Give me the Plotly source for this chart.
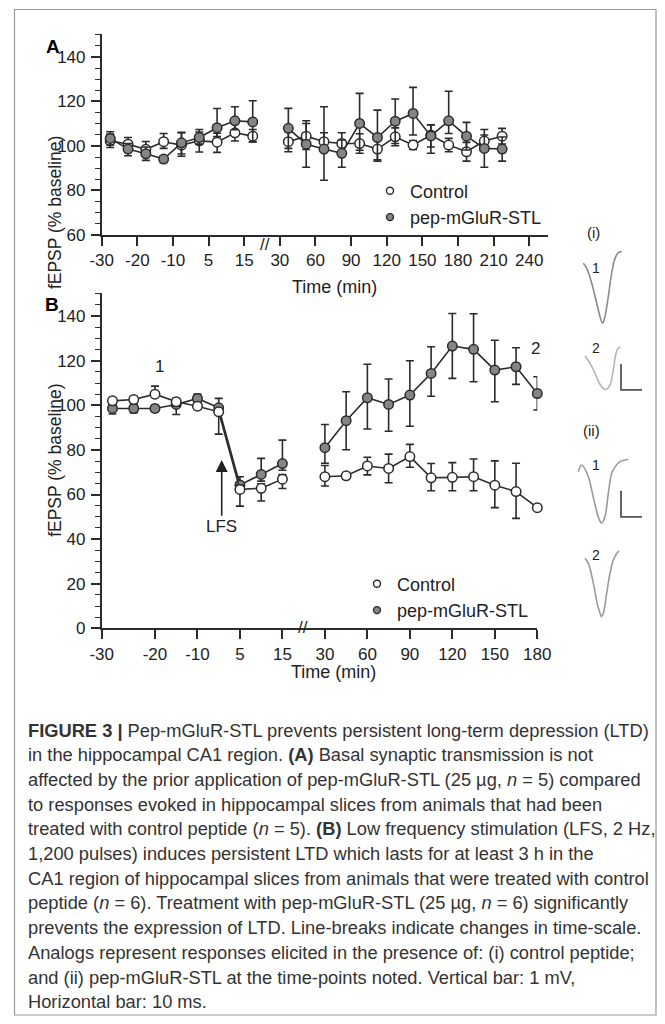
import numpy as np
import plotly.graph_objects as go

# ---------------- data ----------------
# Tick labels of the broken time axes (min)
TICKS_A = [-30, -20, -10, 5, 15, 30, 60, 90, 120, 150, 180, 210, 240]
TICKS_B = [-30, -20, -10, 5, 15, 30, 60, 90, 120, 150, 180]

# Panel A: basal synaptic transmission
TIME_A_PRE = [-30, -25, -20, -15, -10, -2.5, 5, 10, 15]
TIME_A_POST = [30, 45, 60, 75, 90, 105, 120, 135, 150, 165, 180, 195, 210]
A_CTRL_PRE = [102.3, 100.8, 98.5, 101.9, 100.4, 102.3, 101.7, 105.9, 104.4]
A_CTRL_PRE_UP = [3.0, 3.0, 3.5, 3.7, 5.5, 4.0, 4.0, 4.0, 3.0]
A_CTRL_PRE_DN = [3.0, 3.0, 3.0, 3.0, 5.0, 5.0, 4.6, 3.7, 2.5]
A_PEP_PRE = [103.4, 98.6, 96.5, 94.1, 101.4, 103.8, 108.2, 111.3, 110.8]
A_PEP_PRE_UP = [3.0, 2.5, 3.0, 1.5, 4.7, 3.6, 8.6, 6.3, 9.5]
A_PEP_PRE_DN = [3.0, 3.0, 3.0, 1.5, 5.0, 3.0, 4.0, 4.0, 9.0]
A_CTRL_POST = [101.9, 104.4, 101.9, 101.1, 101.1, 98.6, 104.1, 100.4, 104.9, 100.4, 97.4, 102.2, 104.4]
A_CTRL_POST_UP = [4.5, 6.9, 4.0, 4.8, 4.4, 5.4, 4.0, 2.0, 4.5, 3.0, 4.2, 5.2, 3.5]
A_CTRL_POST_DN = [4.5, 6.0, 4.0, 4.5, 4.4, 5.4, 4.0, 2.0, 8.2, 3.0, 4.2, 4.0, 3.5]
A_PEP_POST = [107.9, 100.8, 98.6, 96.7, 110.1, 103.8, 111.1, 114.6, 104.5, 111.3, 104.4, 98.9, 98.6]
A_PEP_POST_UP = [9.0, 9.3, 19.0, 6.0, 13.5, 12.3, 10.0, 11.7, 5.0, 13.3, 6.2, 6.0, 5.4]
A_PEP_POST_DN = [9.0, 10.4, 14.0, 6.3, 12.0, 10.0, 10.0, 9.7, 5.0, 5.7, 6.2, 8.5, 5.4]

# Panel B: LFS-induced LTD
TIME_B_PRE = [-30, -25, -20, -15, -10, -2.5, 5, 10, 15]
TIME_B_POST = [30, 45, 60, 75, 90, 105, 120, 135, 150, 165, 180]
B_CTRL_PRE = [102.0, 102.6, 105.0, 101.6, 99.6, 97.1, 62.3, 62.8, 66.9]
B_CTRL_PRE_UP = [1.5, 1.5, 3.6, 1.5, 1.5, 1.5, 2.0, 2.0, 2.0]
B_CTRL_PRE_DN = [1.5, 1.5, 1.5, 2.0, 1.5, 10.0, 7.5, 5.7, 4.2]
B_PEP_PRE = [98.6, 98.6, 98.6, 100.4, 103.1, 98.9, 64.3, 69.0, 73.9]
B_PEP_PRE_UP = [1.5, 1.5, 1.5, 2.0, 2.0, 4.2, 3.7, 7.2, 10.5]
B_PEP_PRE_DN = [2.5, 2.0, 1.5, 4.5, 2.0, 3.0, 3.0, 3.0, 3.0]
B_CTRL_POST = [68.0, 68.4, 72.8, 71.7, 77.0, 67.5, 67.7, 68.0, 64.2, 61.3, 54.1]
B_CTRL_POST_UP = [5.0, 1.5, 3.9, 6.4, 5.5, 6.4, 6.6, 7.9, 10.9, 12.7, 0.0]
B_CTRL_POST_DN = [4.2, 1.5, 4.0, 6.4, 4.8, 5.8, 6.0, 6.3, 10.1, 12.0, 0.0]
B_PEP_POST = [81.0, 93.1, 103.4, 100.4, 104.6, 114.3, 126.6, 125.1, 115.8, 117.3, 105.3]
B_PEP_POST_UP = [10.4, 13.0, 15.0, 11.4, 15.4, 12.0, 14.6, 16.0, 13.4, 8.5, 7.5]
B_PEP_POST_DN = [7.0, 13.0, 14.0, 12.0, 14.0, 10.2, 14.5, 14.5, 14.2, 7.9, 7.4]

# Analog traces (time in ms, voltage in mV relative to trace start)
WAVE_I1_T = [0, 1.6, 4.0, 6.4, 8.3, 9.2, 10.3, 11.9, 13.5, 15.1, 16.7, 18.3]
WAVE_I1_V = [0, -0.19, -0.77, -1.54, -2.15, -2.31, -2.05, -1.28, -0.38, 0.19, 0.41, 0.45]
WAVE_I2_T = [0, 2.4, 4.8, 7.1, 9.5, 10.3, 11.9, 13.2, 14.3, 15.4, 16.7]
WAVE_I2_V = [0, -0.28, -0.67, -1.08, -1.28, -1.28, -1.12, -0.67, -0.09, 0.26, 0.36]
WAVE_II1_T = [0, 1.6, 4.8, 7.1, 9.5, 11.1, 12.7, 14.3, 15.9, 17.5, 19.8, 23.8]
WAVE_II1_V = [0, 0.26, -0.19, -0.96, -1.73, -1.98, -1.73, -0.83, -0.06, 0.19, 0.38, 0.48]
WAVE_II2_T = [0, 1.6, 4.0, 5.8, 7.5, 7.9, 8.7, 10.3, 11.9, 13.5, 15.1, 16.3]
WAVE_II2_V = [0, -0.19, -0.96, -1.73, -2.18, -2.24, -2.12, -1.35, -0.58, -0.06, 0.19, 0.29]
SCALE_MV = 1
SCALE_MS = 10

CAPTION = [
    "<b>FIGURE 3 |</b> Pep-mGluR-STL prevents persistent long-term depression (LTD)",
    "in the hippocampal CA1 region. <b>(A)</b> Basal synaptic transmission is not",
    "affected by the prior application of pep-mGluR-STL (25 \u00b5g, <i>n</i> = 5) compared",
    "to responses evoked in hippocampal slices from animals that had been",
    "treated with control peptide (<i>n</i> = 5). <b>(B)</b> Low frequency stimulation (LFS, 2 Hz,",
    "1,200 pulses) induces persistent LTD which lasts for at least 3 h in the",
    "CA1 region of hippocampal slices from animals that were treated with control",
    "peptide (<i>n</i> = 6). Treatment with pep-mGluR-STL (25 \u00b5g, <i>n</i> = 6) significantly",
    "prevents the expression of LTD. Line-breaks indicate changes in time-scale.",
    "Analogs represent responses elicited in the presence of: (i) control peptide;",
    "and (ii) pep-mGluR-STL at the time-points noted. Vertical bar: 1 mV,",
    "Horizontal bar: 10 ms.",
]

# ---------------- style / layout ----------------
FONT = "Liberation Sans, Arial, Helvetica, sans-serif"
INK = "#2b2b2b"
FILL_PEP = "#858585"
PAGE_OFF = 8.0            # the page body margin shifts the plot div by 8 px
W, H = 665 - 2 * int(PAGE_OFF), 1024 - 2 * int(PAGE_OFF)   # keep the page free of overflow


def fx(x):
    return (x - PAGE_OFF) / W


def fy(y):
    return 1 - (y - PAGE_OFF) / H


def pos(t, ticks):
    return np.interp(t, ticks, np.arange(len(ticks)))


# panel A geometry (pixels in the reference picture)
A_X0, A_X1, A_ZERO, A_UNIT = 101.7, 548.0, 110.2, 35.63
A_Y0, A_Y1 = 235.0, 34.2
# panel B geometry
B_X0, B_X1, B_ZERO, B_UNIT = 101.7, 537.3, 112.5, 42.48
B_Y0, B_Y1 = 628.3, 293.4

a_rng = [(A_X0 - A_ZERO) / A_UNIT, (A_X1 - A_ZERO) / A_UNIT]
b_rng = [(B_X0 - B_ZERO) / B_UNIT, (B_X1 - B_ZERO) / B_UNIT]
a_tickpos = list(np.arange(len(TICKS_A)) + a_rng[0])
b_tickpos = list(np.arange(len(TICKS_B), dtype=float))
b_tickpos[0] = b_rng[0]

fig = go.Figure()


def add_series(xa, ya, t, ticks, y, up, dn, filled):
    fig.add_trace(go.Scatter(
        x=pos(t, ticks), y=y, mode="lines+markers", xaxis=xa, yaxis=ya,
        line=dict(color=INK, width=1.6),
        marker=dict(size=9.5, color=FILL_PEP if filled else "white",
                    line=dict(color=INK, width=1.5)),
        error_y=dict(type="data", symmetric=False, array=up, arrayminus=dn,
                     color=INK, thickness=1.6, width=4),
        showlegend=False, cliponaxis=False, hoverinfo="skip"))


# Panel A (control under pep)
add_series("x", "y", TIME_A_PRE, TICKS_A, A_CTRL_PRE, A_CTRL_PRE_UP, A_CTRL_PRE_DN, False)
add_series("x", "y", TIME_A_POST, TICKS_A, A_CTRL_POST, A_CTRL_POST_UP, A_CTRL_POST_DN, False)
add_series("x", "y", TIME_A_PRE, TICKS_A, A_PEP_PRE, A_PEP_PRE_UP, A_PEP_PRE_DN, True)
add_series("x", "y", TIME_A_POST, TICKS_A, A_PEP_POST, A_PEP_POST_UP, A_PEP_POST_DN, True)
# Panel B (pep under control)
add_series("x2", "y2", TIME_B_PRE, TICKS_B, B_PEP_PRE, B_PEP_PRE_UP, B_PEP_PRE_DN, True)
add_series("x2", "y2", TIME_B_POST, TICKS_B, B_PEP_POST, B_PEP_POST_UP, B_PEP_POST_DN, True)
add_series("x2", "y2", TIME_B_PRE, TICKS_B, B_CTRL_PRE, B_CTRL_PRE_UP, B_CTRL_PRE_DN, False)
add_series("x2", "y2", TIME_B_POST, TICKS_B, B_CTRL_POST, B_CTRL_POST_UP, B_CTRL_POST_DN, False)

# legends
for lg in ["legend", "legend2"]:
    fig.add_trace(go.Scatter(x=[None], y=[None], mode="markers", name="Control",
                             marker=dict(size=7, color="white", line=dict(color=INK, width=1.4)),
                             legend=lg, xaxis="x", yaxis="y"))
    fig.add_trace(go.Scatter(x=[None], y=[None], mode="markers", name="pep-mGluR-STL",
                             marker=dict(size=7, color=FILL_PEP, line=dict(color=INK, width=1.4)),
                             legend=lg, xaxis="x", yaxis="y"))

# analog traces: one invisible axis (ms, mV)
TR_X0, TR_X1, TR_Y0, TR_Y1 = 560.0, 656.0, 230.0, 640.0
PX_PER_MS, PX_PER_MV = 2.1, 26.0
tr_xr = [0, (TR_X1 - TR_X0) / PX_PER_MS]
tr_yr = [-(TR_Y1 - TR_Y0) / PX_PER_MV, 0]
# trace placement offsets (ms, mV) inside that axis
OFF = {"i1": (11.1, -1.28), "i2": (11.9, -4.85), "ii1": (8.7, -9.30), "ii2": (11.9, -12.63)}
WAVES = [("i1", WAVE_I1_T, WAVE_I1_V, "#8c8c8c"),
         ("i2", WAVE_I2_T, WAVE_I2_V, "#b5b5b5"),
         ("ii1", WAVE_II1_T, WAVE_II1_V, "#9a9a9a"),
         ("ii2", WAVE_II2_T, WAVE_II2_V, "#9a9a9a")]
for key, t, v, col in WAVES:
    ox, oy = OFF[key]
    fig.add_trace(go.Scatter(x=np.array(t) + ox, y=np.array(v) + oy, mode="lines",
                             line=dict(color=col, width=1.6, shape="spline", smoothing=1.0),
                             xaxis="x3", yaxis="y3", showlegend=False, hoverinfo="skip",
                             cliponaxis=False))
for ox, oy in [(29.05, -6.15), (29.05, -11.03)]:
    fig.add_trace(go.Scatter(x=[ox, ox, ox + SCALE_MS], y=[oy + SCALE_MV, oy, oy], mode="lines",
                             line=dict(color="#555555", width=1.8), xaxis="x3", yaxis="y3",
                             showlegend=False, hoverinfo="skip", cliponaxis=False))

axis_common = dict(showline=True, linecolor=INK, linewidth=1.6, ticks="outside", ticklen=9,
                   tickwidth=1.5, tickcolor=INK, showgrid=False, zeroline=False, automargin=False,
                   tickfont=dict(size=17, color="#222", family=FONT), fixedrange=True)

annotations = []


def ann(x, y, text, size=17, bold=False, color="#222", **kw):
    annotations.append(dict(x=fx(x), y=fy(y), xref="paper", yref="paper", showarrow=False,
                            text=f"<b>{text}</b>" if bold else text,
                            font=dict(size=size, color=color, family=FONT), **kw))


# panel letters
ann(44, 34, "A", size=19, bold=True, color="#000")
ann(42.5, 291.5, "B", size=19, bold=True, color="#000")
# axis titles
ann(43, (A_Y0 + A_Y1) / 2, "fEPSP (% baseline)", size=17.5, textangle=-90)
ann(43, (B_Y0 + B_Y1) / 2, "fEPSP (% baseline)", size=17.5, textangle=-90)
ann(334.5, 275, "Time (min)", size=18)
ann(333.5, 672, "Time (min)", size=18)
# axis breaks
ann(264.5, 233.5, "//", size=17)
ann(303, 627, "//", size=17)
# panel B markers
ann(153.3, 366, "1", size=17)
ann(541.7, 348.3, "2", size=17)
annotations.append(dict(x=fx(221.7), y=fy(460), xref="paper", yref="paper", text="LFS",
                        showarrow=True, ax=0, ay=66.7, arrowhead=2, arrowsize=1.5, arrowwidth=1.6,
                        arrowcolor="#222", font=dict(size=17, color="#222", family=FONT)))
# analog labels
ann(601.7, 221.7, "(i)", size=15)
ann(601.7, 258.0, "1", size=14)
ann(601.7, 348.3, "2", size=14)
ann(601.7, 430.0, "(ii)", size=15)
ann(601.7, 465.0, "1", size=14)
ann(601.7, 555.0, "2", size=14)
# caption
CAP_X, CAP_Y0, CAP_DY = 26.0, 730.0, 24.7
for i, line in enumerate(CAPTION):
    annotations.append(dict(x=fx(CAP_X), y=fy(CAP_Y0 + i * CAP_DY), xref="paper", yref="paper",
                            xanchor="left", yanchor="middle", showarrow=False, text=line,
                            font=dict(size=18.3, color="#333", family=FONT)))

fig.update_layout(
    width=W, height=H, autosize=False,
    margin=dict(l=0, r=0, t=0, b=0, pad=0, autoexpand=False),
    paper_bgcolor="white", plot_bgcolor="rgba(0,0,0,0)",
    font=dict(family=FONT, color="#222"),
    xaxis=dict(domain=[fx(A_X0), fx(A_X1)], range=a_rng, anchor="y",
               tickmode="array", tickvals=a_tickpos, ticktext=[str(t) for t in TICKS_A],
               **axis_common),
    yaxis=dict(domain=[fy(A_Y0), fy(A_Y1)], range=[60, 150.2], anchor="x",
               tickmode="array", tickvals=[60, 80, 100, 120, 140],
               minor=dict(dtick=5, tick0=0, ticks="outside", ticklen=4.5, tickwidth=1.3, tickcolor=INK),
               ticklabelstandoff=2, **axis_common),
    xaxis2=dict(domain=[fx(B_X0), fx(B_X1)], range=b_rng, anchor="y2",
                tickmode="array", tickvals=b_tickpos, ticktext=[str(t) for t in TICKS_B],
                **axis_common),
    yaxis2=dict(domain=[fy(B_Y0), fy(B_Y1)], range=[0, 150.2], anchor="x2",
                tickmode="array", tickvals=[0, 20, 40, 60, 80, 100, 120, 140],
                minor=dict(dtick=5, tick0=0, ticks="outside", ticklen=4.5, tickwidth=1.3, tickcolor=INK),
                ticklabelstandoff=2, **axis_common),
    xaxis3=dict(domain=[fx(TR_X0), fx(TR_X1)], range=tr_xr, visible=False, fixedrange=True,
                automargin=False),
    yaxis3=dict(domain=[fy(TR_Y1), fy(TR_Y0)], range=tr_yr, visible=False, fixedrange=True,
                automargin=False),
    legend=dict(x=fx(370), y=fy(204), xanchor="left", yanchor="middle", bgcolor="rgba(0,0,0,0)",
                font=dict(size=18, color="#222", family=FONT), itemwidth=30, tracegroupgap=0),
    legend2=dict(x=fx(357), y=fy(597), xanchor="left", yanchor="middle", bgcolor="rgba(0,0,0,0)",
                 font=dict(size=18, color="#222", family=FONT), itemwidth=30, tracegroupgap=0),
    annotations=annotations,
    shapes=[dict(type="rect", xref="paper", yref="paper", x0=fx(14.5), x1=fx(656.0),
                 y0=fy(1015.0), y1=fy(9.5), line=dict(color="#9a9a9a", width=1.2))],
    showlegend=True,
)

fig.write_html("out.html")
